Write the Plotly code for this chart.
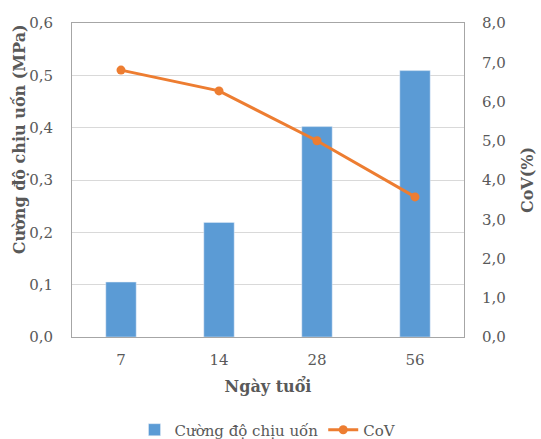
import plotly.graph_objects as go

# Flexural strength and coefficient of variation by curing age
ages = ["7", "14", "28", "56"]
strength_mpa = [0.105, 0.219, 0.402, 0.509]
cov_pct = [6.80, 6.27, 5.00, 3.57]

font_family = "DejaVu Serif"
grid_color = "#d9d9d9"
frame_color = "#a6a6a6"
text_color = "#595959"

fig = go.Figure()
fig.add_trace(go.Bar(
    x=ages, y=strength_mpa, name="Cường độ chịu uốn",
    marker=dict(color="#5b9bd5"), yaxis="y", width=0.31,
))
fig.add_trace(go.Scatter(
    x=ages, y=cov_pct, name="CoV", mode="lines+markers",
    line=dict(color="#ed7d31", width=3), marker=dict(size=9, color="#ed7d31"),
    yaxis="y2",
))

fig.update_layout(
    width=541, height=439,
    margin=dict(l=72, r=77, t=23, b=102, autoexpand=False),
    paper_bgcolor="white", plot_bgcolor="white",
    separators=",.",
    font=dict(family=font_family, size=15, color=text_color),
    showlegend=True,
    legend=dict(orientation="h", x=0.5, xanchor="center",
                y=-0.296, yanchor="middle",
                font=dict(size=15, color=text_color), traceorder="normal"),
    xaxis=dict(
        showline=True, linecolor=frame_color, mirror=True, ticks="",
        ticklabelstandoff=9,
        title=dict(text="<b>Ngày tuổi</b>", font=dict(size=16, color=text_color), standoff=12),
        tickfont=dict(size=15),
    ),
    yaxis=dict(
        range=[0, 0.6], dtick=0.1, tickformat=".1f",
        showgrid=True, gridcolor=grid_color, zeroline=False,
        showline=True, linecolor=frame_color, mirror=True, ticks="",
        ticklabelstandoff=15,
        tickfont=dict(size=15),
    ),
    yaxis2=dict(
        range=[0, 8], dtick=1, tickformat=".1f", overlaying="y", side="right",
        showgrid=False, zeroline=False, ticks="",
        ticklabelstandoff=17,
        title=dict(text="<b>CoV(%)</b>", font=dict(size=16, color=text_color), standoff=16),
        tickfont=dict(size=15),
    ),
    annotations=[dict(
        text="<b>Cường độ chịu uốn (MPa)</b>", textangle=-90,
        xref="paper", yref="paper", x=-0.135, y=0.63,
        xanchor="center", yanchor="middle", showarrow=False,
        font=dict(size=16, color=text_color),
    )],
)

fig.write_html("out.html")
